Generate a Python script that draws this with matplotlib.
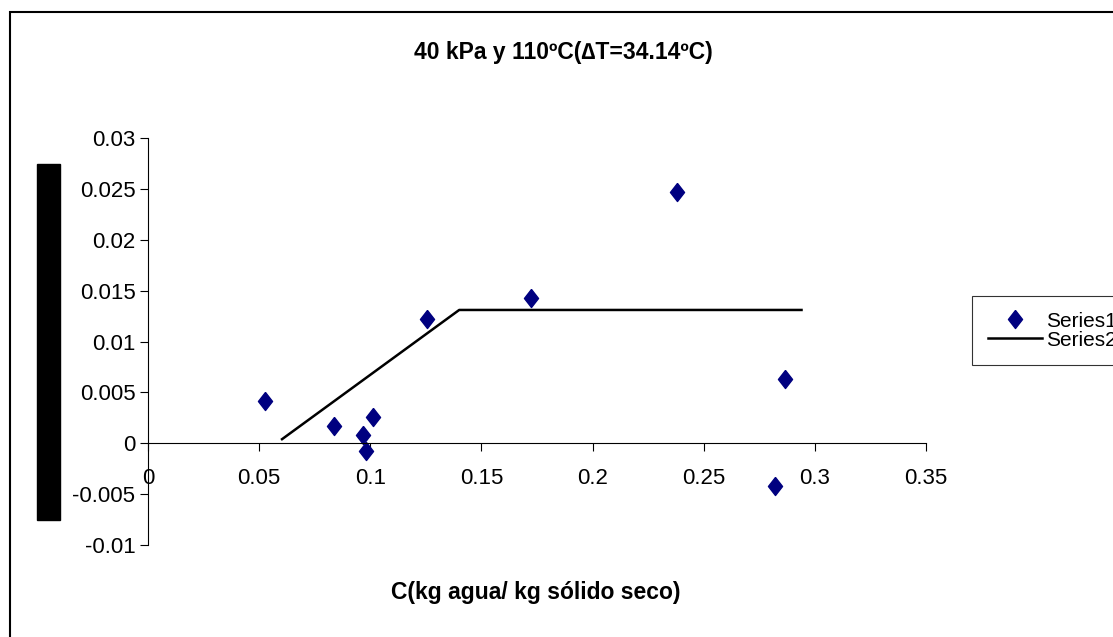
import matplotlib.pyplot as plt
import matplotlib as mpl
from matplotlib.patches import Rectangle

mpl.rcParams['font.family'] = ['Liberation Sans', 'DejaVu Sans']

# Series1: measured points
x1 = [0.0526, 0.0837, 0.0967, 0.0981, 0.1012, 0.1255, 0.1723, 0.2380, 0.2866, 0.2820]
y1 = [0.0042, 0.0017, 0.0008, -0.0008, 0.0026, 0.0122, 0.0143, 0.0247, 0.0063, -0.0042]
# Series2: fitted line
x2 = [0.0603, 0.140, 0.294]
y2 = [0.0004, 0.0131, 0.0131]

xticks = [0, 0.05, 0.1, 0.15, 0.2, 0.25, 0.3, 0.35]
xticklabels = ['0', '0.05', '0.1', '0.15', '0.2', '0.25', '0.3', '0.35']
yticks = [-0.01, -0.005, 0, 0.005, 0.01, 0.015, 0.02, 0.025, 0.03]
yticklabels = ['-0.01', '-0.005', '0', '0.005', '0.01', '0.015', '0.02', '0.025', '0.03']

diamond = [(0, 1), (0.78, 0), (0, -1), (-0.78, 0), (0, 1)]

fig = plt.figure(figsize=(11.13, 6.37), dpi=100)
ax = fig.add_axes([148 / 1113, 1 - 545 / 637, 778 / 1113, 407 / 637])

ax.plot(x1, y1, linestyle='none', marker=diamond, markersize=13,
        color='#000080', label='Series1')
ax.plot(x2, y2, color='black', linewidth=1.8, label='Series2')

ax.set_xlim(0, 0.35)
ax.set_ylim(-0.01, 0.03)
for s in ['top', 'right']:
    ax.spines[s].set_visible(False)
ax.spines['bottom'].set_position(('data', 0))
ax.spines['left'].set_linewidth(0.8)
ax.spines['bottom'].set_linewidth(0.8)

ax.set_xticks(xticks)
ax.set_xticklabels(xticklabels)
ax.set_yticks(yticks)
ax.set_yticklabels(yticklabels)
ax.tick_params(axis='both', direction='out', length=6, width=0.8, labelsize=16)
ax.tick_params(axis='x', pad=12)
ax.tick_params(axis='y', pad=3)

fig.text(563 / 1113, 1 - 52 / 637, '40 kPa y 110ºC(∆T=34.14ºC)',
         ha='center', va='center', fontsize=16.5, fontweight='bold')
fig.text(536 / 1113, 1 - 592 / 637, 'C(kg agua/ kg sólido seco)',
         ha='center', va='center', fontsize=16.5, fontweight='bold')

# black block where the y-axis label sits
fig.patches.append(Rectangle((37 / 1113, 1 - 520 / 637), 23 / 1113, 356 / 637,
                             transform=fig.transFigure, color='black'))

# outer chart border
fig.patches.append(Rectangle((10 / 1113, -0.05), 1.2, 1 - 12 / 637 + 0.05,
                             transform=fig.transFigure, fill=False,
                             edgecolor='black', linewidth=1.5))

leg = fig.legend(loc='upper left', bbox_to_anchor=(972 / 1113, 1 - 296 / 637),
                 fontsize=15, frameon=True, fancybox=False, edgecolor='black',
                 handlelength=2.6, borderpad=0.75, labelspacing=0.0,
                 handletextpad=0.2, borderaxespad=0)
leg.get_frame().set_linewidth(0.8)

plt.savefig('out.png', dpi=100)
